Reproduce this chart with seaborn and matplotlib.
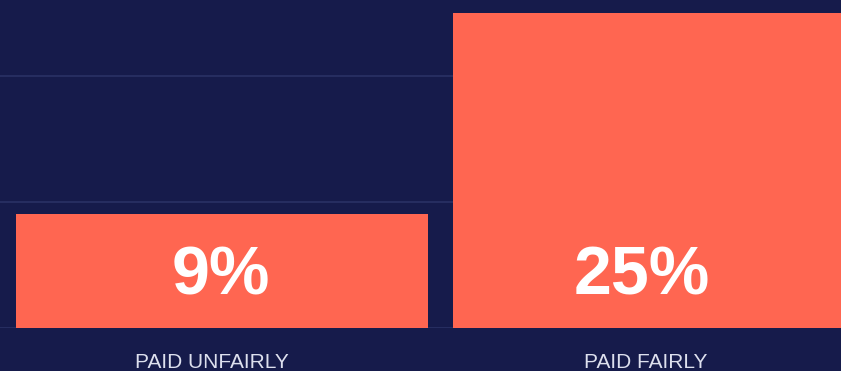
import matplotlib
matplotlib.use("Agg")
import matplotlib.pyplot as plt
import seaborn as sns
import pandas as pd

categories = ["PAID UNFAIRLY", "PAID FAIRLY"]
values = [9, 25]
value_labels = ["9%", "25%"]

BG = "#161b4b"
BAR = "#ff6651"
GRID = "#2a3165"

sns.set_theme(style="dark")
plt.rcParams["font.family"] = ["Liberation Sans", "DejaVu Sans"]

df = pd.DataFrame({"category": categories, "value": values})

fig = plt.figure(figsize=(8.41, 3.71), dpi=100, facecolor=BG)
ax = fig.add_axes([0, 43 / 371, 1, 328 / 371])
ax.set_facecolor(BG)

sns.barplot(data=df, x="category", y="value", color=BAR, saturation=1,
            width=0.943, linewidth=0, edgecolor="none", ax=ax, zorder=3)

ax.set_ylim(0, 26)
ax.set_xlim(-222 / 437, (841 - 222) / 437)
ax.set_yticks([0, 10, 20])
ax.set_yticklabels([])
ax.yaxis.grid(True, color=GRID, linewidth=1.2, zorder=0)
ax.xaxis.grid(False)
for s in ax.spines.values():
    s.set_visible(False)

ax.set_xticks([-0.023, 0.97])
ax.set_xticklabels(categories)
ax.tick_params(axis="x", length=0, pad=18, labelsize=15, labelcolor="#dde0ee")
ax.tick_params(axis="y", length=0)
ax.set_xlabel("")
ax.set_ylabel("")

offsets = [-0.003, -0.04]
for i, (v, lab) in enumerate(zip(values, value_labels)):
    ax.text(i + offsets[i], 4.1, lab, ha="center", va="center",
            color="white", fontsize=49, fontweight="bold", zorder=4)

fig.savefig("out.png", dpi=100, facecolor=BG)
